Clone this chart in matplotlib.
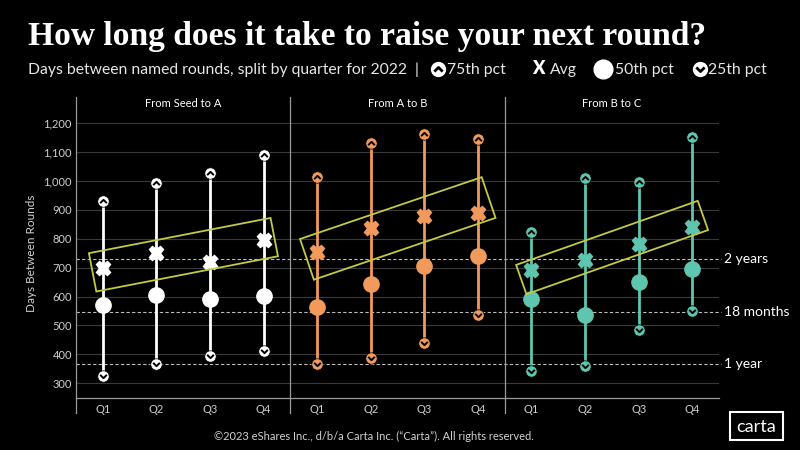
import matplotlib
matplotlib.use("Agg")
import matplotlib.pyplot as plt
import numpy as np
from matplotlib.path import Path
from matplotlib.patches import Polygon, Rectangle

# ---------------- data ----------------
panels = ["From Seed to A", "From A to B", "From B to C"]
quarters = ["Q1", "Q2", "Q3", "Q4"]

seed_p75 = [931, 992, 1027, 1090]
seed_avg = [700, 750, 721, 796]
seed_p50 = [571, 606, 592, 603]
seed_p25 = [325, 367, 396, 410]

ab_p75 = [1013, 1133, 1162, 1147]
ab_avg = [753, 837, 879, 891]
ab_p50 = [564, 644, 707, 741]
ab_p25 = [366, 389, 438, 538]

bc_p75 = [825, 1012, 996, 1154]
bc_avg = [692, 727, 782, 842]
bc_p50 = [592, 536, 652, 696]
bc_p25 = [343, 361, 485, 551]

ref_days = [730, 547.5, 365]
ref_labels = ["2 years", "18 months", "1 year"]
yticks = [300, 400, 500, 600, 700, 800, 900, 1000, 1100, 1200]

# highlight boxes: value of box centre line at left / right end (days)
box_start = [684, 729, 659]
box_end = [806, 943, 881]

title = "How long does it take to raise your next round?"
subtitle = "Days between named rounds, split by quarter for 2022  |"
footer = "\u00a92023 eShares Inc., d/b/a Carta Inc. (\u201cCarta\u201d). All rights reserved."

# ---------------- style ----------------
colors = ["#ffffff", "#f29a5c", "#5ec6af"]
box_color = "#c3c943"
box_half_px = [19.5, 21.5, 15.5]
sans = ["Lato", "DejaVu Sans"]
plt.rcParams["font.family"] = sans

W, H = 800, 450
fig = plt.figure(figsize=(8, 4.5), dpi=100, facecolor="black")
ax = fig.add_axes([76 / W, 1 - 398 / H, (719 - 76) / W, (398 - 97) / H])
ax.set_facecolor("black")
ax.set_xlim(0, 12)
ax.set_ylim(249, 1291)

# grid
ax.hlines(yticks, 0, 12, color="#3a3a3a", lw=0.8, zorder=0)
ax.hlines(ref_days, 0, 12.03, color="#bdbdbd", lw=0.8, ls=(0, (3, 2)), zorder=1, clip_on=False)
for v, lab in zip(ref_days, ref_labels):
    ax.text(12.1, v, lab, color="white", fontsize=10, va="center", ha="left", clip_on=False)

# spines / separators
for s in ["top", "right", "left", "bottom"]:
    ax.spines[s].set_visible(False)
ax.axhline(249, color="#9a9a9a", lw=0.9, clip_on=False)
for xs in [0, 4, 8]:
    ax.axvline(xs, ymin=-0.05, ymax=1, color="#9a9a9a", lw=0.9, clip_on=False)

# ticks
ax.set_yticks(yticks)
ax.set_yticklabels([f"{v:,}" for v in yticks])
xpos = np.arange(12) + 0.5
ax.set_xticks(xpos)
ax.set_xticklabels(quarters * 3)
ax.tick_params(axis="both", length=0, colors="#cfcfcf", labelsize=8)
ax.tick_params(axis="y", pad=3)
ax.tick_params(axis="x", pad=4)
ax.set_ylabel("Days Between Rounds", color="#cfcfcf", fontsize=8.5)
ax.yaxis.set_label_coords(-0.061, 0.48)

chev_up = Path([(-0.5, -0.25), (0, 0.25), (0.5, -0.25)],
               [Path.MOVETO, Path.LINETO, Path.LINETO])
chev_dn = Path([(-0.5, 0.25), (0, -0.25), (0.5, 0.25)],
               [Path.MOVETO, Path.LINETO, Path.LINETO])

series = [(seed_p75, seed_avg, seed_p50, seed_p25),
          (ab_p75, ab_avg, ab_p50, ab_p25),
          (bc_p75, bc_avg, bc_p50, bc_p25)]

for i, (p75, av, p50, p25) in enumerate(series):
    c = colors[i]
    x = xpos[4 * i:4 * i + 4]
    ax.text(4 * i + 2, 1270, panels[i], color="white", fontsize=8, ha="center", va="center")
    ax.vlines(x, p25, p75, color=c, lw=2.0, zorder=3)
    ax.plot(x, p75, "o", ms=8.2, mfc=c, mec="black", mew=0.5, ls="none", zorder=4)
    ax.plot(x, p75, marker=chev_up, ms=4.8, mfc="none", mec="black", mew=1.4, ls="none", zorder=5)
    ax.plot(x, p25, "o", ms=8.2, mfc=c, mec="black", mew=0.5, ls="none", zorder=4)
    ax.plot(x, p25, marker=chev_dn, ms=4.8, mfc="none", mec="black", mew=1.4, ls="none", zorder=5)
    ax.plot(x, p50, "o", ms=11, mfc=c, mec=c, ls="none", zorder=4)
    ax.plot(x, av, "X", ms=10.5, mfc=c, mec=c, ls="none", zorder=4)

# highlight boxes (rotated rectangles in display space)
fig.canvas.draw()
for i in range(3):
    xl = 4 * i + 0.5 - 0.19
    xr = 4 * i + 3.5 + 0.2
    p0 = ax.transData.transform((xl, box_start[i]))
    p1 = ax.transData.transform((xr, box_end[i]))
    d = (p1 - p0) / np.linalg.norm(p1 - p0)
    n = np.array([-d[1], d[0]]) * box_half_px[i]
    corners = np.array([p0 + n, p1 + n, p1 - n, p0 - n])
    corners_data = ax.transData.inverted().transform(corners)
    ax.add_patch(Polygon(corners_data, closed=True, fill=False, ec=box_color, lw=1.3, zorder=6))

# ---------------- overlay (titles, legend, footer) ----------------
ov = fig.add_axes([0, 0, 1, 1], zorder=10)
ov.set_xlim(0, W)
ov.set_ylim(H, 0)
ov.axis("off")
ov.patch.set_alpha(0)

ov.text(28, 44.5, title, fontsize=24.1, fontweight="bold", color="white",
        family=["Liberation Serif", "DejaVu Serif"], va="baseline", ha="left")
ov.text(28, 74, subtitle, fontsize=11.3, color="#e6e6e6", va="baseline", ha="left")

# legend icons
ov.plot([438], [69], "o", ms=10, mfc="white", mec="white")
ov.plot([438], [69], marker=chev_up, ms=6, mfc="none", mec="black", mew=2)
ov.text(447, 74, "75th pct", fontsize=11.3, color="#e6e6e6", va="baseline")
ov.text(538, 74, "X", fontsize=13, fontweight="heavy", color="white", va="baseline", ha="center")
ov.text(550, 74, "Avg", fontsize=11.3, color="#e6e6e6", va="baseline")
ov.plot([603], [69], "o", ms=13.5, mfc="white", mec="white")
ov.text(615, 74, "50th pct", fontsize=11.3, color="#e6e6e6", va="baseline")
ov.plot([700], [69], "o", ms=10, mfc="white", mec="white")
ov.plot([700], [69], marker=chev_dn, ms=6, mfc="none", mec="black", mew=2)
ov.text(708, 74, "25th pct", fontsize=11.3, color="#e6e6e6", va="baseline")

# footer & logo
ov.text(374, 436, footer, fontsize=8, color="#d0d0d0", ha="center", va="center")
ov.add_patch(Rectangle((730, 412), 53, 28, fill=False, ec="white", lw=1.5))
ov.text(756.5, 426.5, "carta", fontsize=13, color="white", ha="center", va="center")

fig.savefig("out.png", dpi=100, facecolor="black")
